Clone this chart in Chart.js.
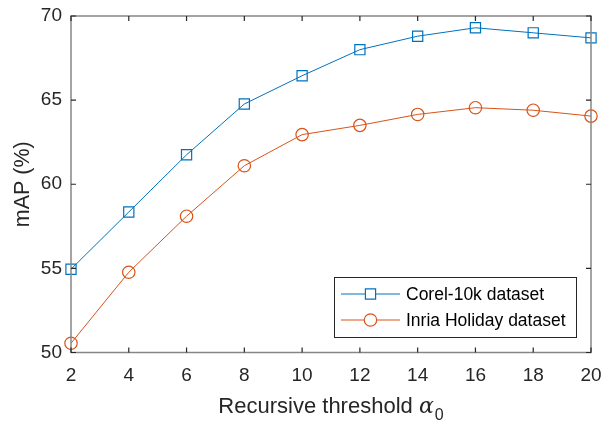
<!DOCTYPE html>
<html>
<head>
<meta charset="utf-8">
<script src="https://cdn.jsdelivr.net/npm/chart.js@4"></script>
<style>
  html, body { margin: 0; padding: 0; background: #fff; }
  #wrap { width: 603px; height: 427px; }
</style>
</head>
<body>
<div id="wrap"><canvas id="ChartMap" width="603" height="427"></canvas></div>
<script>
// data
var thresholds = [2, 4, 6, 8, 10, 12, 14, 16, 18, 20];
var corelMap = [54.95, 58.35, 61.75, 64.77, 66.45, 68.0, 68.8, 69.3, 69.0, 68.7];
var inriaMap = [50.55, 54.77, 58.1, 61.1, 62.95, 63.5, 64.15, 64.55, 64.4, 64.05];
var xTicks = [2, 4, 6, 8, 10, 12, 14, 16, 18, 20];
var yTicks = [50, 55, 60, 65, 70];
var seriesNames = ["Corel-10k dataset", "Inria Holiday dataset"];

var blue = "#0072BD";
var orange = "#D95319";
var FONT = "'Liberation Sans', Arial, Helvetica, sans-serif";

function ToPoints(xs, ys) {
    return xs.map(function (x, i) { return { x: x, y: ys[i] }; });
}

// MATLAB style box with inward ticks
var boxPlugin = {
    id: 'boxTicks',
    afterDatasetsDraw: function (chart) {
        var ctx = chart.ctx;
        var a = chart.chartArea;
        var xs = chart.scales.x, ys = chart.scales.y;
        ctx.save();
        ctx.strokeStyle = "#868686";
        ctx.lineWidth = 1.5;
        ctx.strokeRect(a.left, a.top, a.right - a.left, a.bottom - a.top);
        ctx.strokeStyle = "#262626";
        ctx.lineWidth = 1.2;
        var tl = 5;
        ctx.beginPath();
        xTicks.forEach(function (v) {
            var px = xs.getPixelForValue(v);
            ctx.moveTo(px, a.bottom); ctx.lineTo(px, a.bottom - tl);
            ctx.moveTo(px, a.top); ctx.lineTo(px, a.top + tl);
        });
        yTicks.forEach(function (v) {
            var py = ys.getPixelForValue(v);
            ctx.moveTo(a.left, py); ctx.lineTo(a.left + tl, py);
            ctx.moveTo(a.right, py); ctx.lineTo(a.right - tl, py);
        });
        ctx.stroke();
        ctx.restore();
    }
};

// x axis title with italic alpha and subscript 0
var xTitlePlugin = {
    id: 'xTitle',
    afterDraw: function (chart) {
        var ctx = chart.ctx;
        var a = chart.chartArea;
        var cx = (a.left + a.right) / 2;
        var base = 413;
        ctx.save();
        ctx.fillStyle = "#262626";
        ctx.textBaseline = "alphabetic";
        ctx.textAlign = "left";
        var t1 = "Recursive threshold ";
        ctx.font = "22px " + FONT;
        var w1 = ctx.measureText(t1).width;
        ctx.font = "italic 22px 'DejaVu Serif', 'Liberation Serif', serif";
        var w2 = ctx.measureText("\u03B1").width;
        ctx.font = "16px " + FONT;
        var w3 = ctx.measureText("0").width;
        var x0 = cx - (w1 + w2 + w3 + 1) / 2;
        ctx.font = "22px " + FONT;
        ctx.fillText(t1, x0, base);
        ctx.font = "italic 22px 'DejaVu Serif', 'Liberation Serif', serif";
        ctx.fillText("\u03B1", x0 + w1, base);
        ctx.font = "16px " + FONT;
        ctx.fillText("0", x0 + w1 + w2 + 1, base + 7);
        ctx.restore();
    }
};

// legend box inside the axes, bottom right
var legendPlugin = {
    id: 'boxLegend',
    afterDraw: function (chart) {
        var ctx = chart.ctx;
        var left = 334, top = 277, w = 242, h = 60;
        ctx.save();
        ctx.fillStyle = "#fff";
        ctx.fillRect(left, top, w, h);
        ctx.strokeStyle = "#262626";
        ctx.lineWidth = 1;
        ctx.strokeRect(left + 0.5, top + 0.5, w, h);
        var rows = [top + 17, top + 43];
        chart.data.datasets.forEach(function (ds, i) {
            var y = rows[i];
            ctx.strokeStyle = ds.borderColor;
            ctx.lineWidth = 1;
            ctx.beginPath();
            ctx.moveTo(left + 7, y); ctx.lineTo(left + 66, y);
            ctx.stroke();
            ctx.fillStyle = "#fff";
            ctx.lineWidth = 1.2;
            Chart.helpers.drawPoint(ctx, {
                pointStyle: ds.pointStyle, radius: ds.pointRadius, borderWidth: 1.2
            }, left + 36.5, y);
            ctx.fillStyle = "#000";
            ctx.font = "17.5px " + FONT;
            ctx.textBaseline = "middle";
            ctx.fillText(ds.label, left + 72, y + 1);
        });
        ctx.restore();
    }
};

var ctx = document.getElementById('ChartMap').getContext('2d');

var graph = new Chart(ctx, {
    type: 'line',
    data: {
        datasets: [
            {
                label: seriesNames[0],
                data: ToPoints(thresholds, corelMap),
                borderColor: blue,
                backgroundColor: 'rgba(0,0,0,0)',
                borderWidth: 1,
                pointStyle: 'rect',
                pointRadius: 7.2,
                pointBorderWidth: 1.2,
                pointBackgroundColor: 'rgba(0,0,0,0)',
                tension: 0,
                clip: false
            },
            {
                label: seriesNames[1],
                data: ToPoints(thresholds, inriaMap),
                borderColor: orange,
                backgroundColor: 'rgba(0,0,0,0)',
                borderWidth: 1,
                pointStyle: 'circle',
                pointRadius: 6.2,
                pointBorderWidth: 1.2,
                pointBackgroundColor: 'rgba(0,0,0,0)',
                tension: 0,
                clip: false
            }
        ]
    },
    options: {
        responsive: false,
        animation: false,
        events: [],
        layout: { padding: { left: 0, top: 16, right: 12, bottom: 0 } },
        plugins: {
            legend: { display: false },
            tooltip: { enabled: false }
        },
        scales: {
            x: {
                type: 'linear',
                min: 2,
                max: 20,
                grid: { display: false, drawTicks: false },
                border: { display: false },
                afterBuildTicks: function (scale) {
                    scale.ticks = xTicks.map(function (v) { return { value: v }; });
                },
                afterFit: function (scale) {
                    scale.height = 74.5;
                    scale.paddingLeft = 0;
                    scale.paddingRight = 0;
                },
                ticks: {
                    color: "#262626",
                    font: { family: FONT, size: 19 },
                    padding: 12,
                    maxRotation: 0
                }
            },
            y: {
                min: 50,
                max: 70,
                grid: { display: false, drawTicks: false },
                border: { display: false },
                afterBuildTicks: function (scale) {
                    scale.ticks = yTicks.map(function (v) { return { value: v }; });
                },
                afterFit: function (scale) {
                    scale.width = 71;
                    scale.paddingTop = 0;
                    scale.paddingBottom = 0;
                },
                ticks: {
                    color: "#262626",
                    font: { family: FONT, size: 19 },
                    padding: 9
                },
                title: {
                    display: true,
                    text: "mAP (%)",
                    color: "#262626",
                    font: { family: FONT, size: 21.5 },
                    padding: { top: 10, bottom: 0 }
                }
            }
        }
    },
    plugins: [boxPlugin, xTitlePlugin, legendPlugin]
});
</script>
</body>
</html>
